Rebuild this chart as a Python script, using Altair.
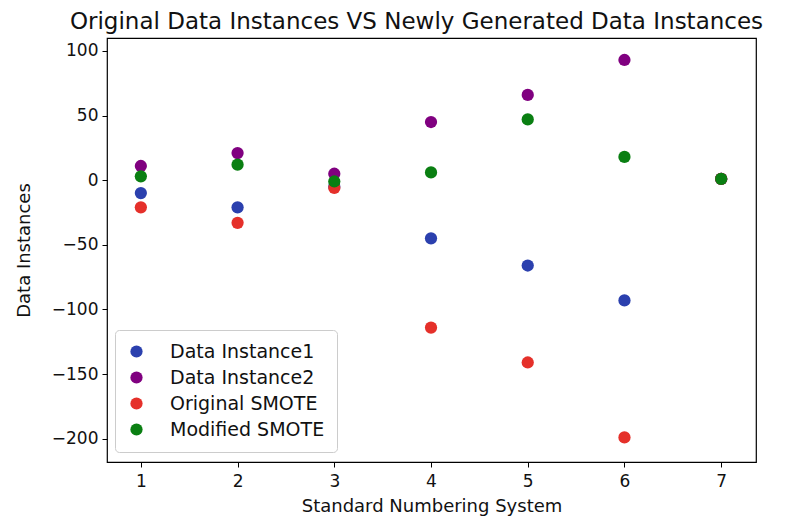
import altair as alt
import pandas as pd

x_vals = [1, 2, 3, 4, 5, 6, 7]
instance1 = [-10, -21, -5, -45, -66, -93, 1]
instance2 = [11, 21, 5, 45, 66, 93, 1]
original_smote = [-21, -33, -6, -114, -141, -199, 1]
modified_smote = [3, 12, -1, 6, 47, 18, 1]

series_names = ["Data Instance1", "Data Instance2", "Original SMOTE", "Modified SMOTE"]
series_colors = ["#2b40ae", "#800080", "#e5302a", "#0a7f12"]
series_values = [instance1, instance2, original_smote, modified_smote]

rows = []
for name, vals in zip(series_names, series_values):
    for xv, yv in zip(x_vals, vals):
        rows.append({"x": xv, "y": yv, "series": name})
df = pd.DataFrame(rows)

font = "DejaVu Sans"

chart = alt.Chart(df).mark_circle(size=150, opacity=1).encode(
    x=alt.X("x:Q", scale=alt.Scale(domain=[0.65, 7.36], nice=False, zero=False),
            axis=alt.Axis(values=x_vals, title="Standard Numbering System", format="d",
                          labelPadding=6, titlePadding=8)),
    y=alt.Y("y:Q", scale=alt.Scale(domain=[-218, 110], nice=False, zero=False),
            axis=alt.Axis(values=[-200, -150, -100, -50, 0, 50, 100], title="Data Instances",
                          titlePadding=18)),
    color=alt.Color("series:N", scale=alt.Scale(domain=series_names, range=series_colors),
                    legend=alt.Legend(title=None, orient="none", legendX=8, legendY=292,
                                      symbolType="circle", symbolSize=150,
                                      labelFontSize=19, labelFont=font, labelColor="#111",
                                      rowPadding=6, padding=12, labelOffset=24,
                                      strokeColor="#cccccc", fillColor="white",
                                      cornerRadius=4, symbolStrokeWidth=0)),
).properties(
    width=649, height=424,
    title=alt.TitleParams("Original Data Instances VS Newly Generated Data Instances",
                          font=font, fontSize=23, fontWeight="normal", color="#111",
                          anchor="middle", offset=4, dx=-15),
    autosize=alt.AutoSizeParams(type="none"),
    padding={"left": 99, "top": 30, "right": 23, "bottom": 57},
).configure_view(
    stroke="black", strokeWidth=1.2
).configure_axis(
    grid=False, domain=False, ticks=True, tickSize=5, tickColor="black",
    labelFont=font, labelFontSize=17, labelColor="#111", labelPadding=4,
    titleFont=font, titleFontSize=18, titleFontWeight="normal", titleColor="#111",
)

chart.save("out.html", embed_options={"renderer": "svg", "actions": False})
